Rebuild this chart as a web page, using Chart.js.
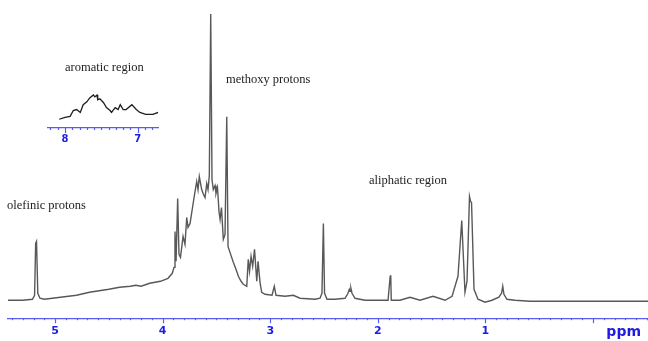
<!DOCTYPE html>
<html>
<head>
<meta charset="utf-8">
<title>1H NMR spectrum</title>
<script src="https://cdn.jsdelivr.net/npm/chart.js@4.4.0/dist/chart.umd.min.js"></script>
<style>
  html, body { margin: 0; padding: 0; background: #fff; }
  #wrap { position: relative; width: 648px; height: 341px; overflow: hidden; }
  #spectrum { position: absolute; left: 0; top: 0; }
  #inset { position: absolute; left: 40px; top: 80px; }
  .note {
    position: absolute;
    font-family: "Liberation Serif", "Times New Roman", serif;
    font-size: 12.5px;
    line-height: 14px;
    color: #222;
    white-space: nowrap;
  }
</style>
</head>
<body>
<div id="wrap">
  <canvas id="spectrum" width="648" height="345"></canvas>
  <canvas id="inset" width="130" height="70"></canvas>
  <div class="note" style="left:65px; top:60px">aromatic region</div>
  <div class="note" style="left:226px; top:72px">methoxy protons</div>
  <div class="note" style="left:7px; top:198px">olefinic protons</div>
  <div class="note" style="left:369px; top:173px">aliphatic region</div>
</div>
<script>
// main spectrum, chemical shift (ppm) and intensity
const PPM = [
  5.44, 5.30, 5.21, 5.19, 5.180, 5.172, 5.160, 5.14, 5.10, 4.95,
  4.80, 4.68, 4.50, 4.40, 4.30, 4.25, 4.20, 4.12, 4.02, 3.95,
  3.91, 3.894, 3.885, 3.875, 3.860, 3.848, 3.834, 3.810, 3.792, 3.776,
  3.764, 3.745, 3.715, 3.699, 3.683, 3.671, 3.659, 3.637, 3.620, 3.606,
  3.590, 3.578, 3.566, 3.553, 3.541, 3.529, 3.513, 3.504, 3.490, 3.476,
  3.466, 3.453, 3.436, 3.420, 3.404, 3.392, 3.374, 3.343, 3.318, 3.296,
  3.271, 3.250, 3.218, 3.204, 3.192, 3.178, 3.163, 3.146, 3.125, 3.113,
  3.095, 3.079, 3.048, 2.983, 2.962, 2.946, 2.862, 2.785, 2.723, 2.584,
  2.537, 2.519, 2.506, 2.495, 2.472, 2.398, 2.305, 2.277, 2.265, 2.258,
  2.250, 2.240, 2.212, 2.119, 1.905, 1.885, 1.880, 1.875, 1.794, 1.701,
  1.608, 1.487, 1.375, 1.310, 1.255, 1.220, 1.190, 1.171, 1.148, 1.138,
  1.129, 1.106, 1.069, 1.004, 0.939, 0.875, 0.850, 0.839, 0.828, 0.800,
  0.725, 0.585, -0.511
];
const INTENSITY = [
  1, 1, 2, 6, 58, 60, 8, 3, 2, 4,
  6, 9, 12, 14, 15, 16, 15, 18, 20, 23,
  28, 34, 70, 40, 103, 47, 44, 65, 57, 84,
  74, 78, 99, 110, 120, 112, 125, 112, 107, 104,
  118, 112, 126, 288, 122, 112, 116, 108, 114, 90,
  82, 94, 62, 67, 185, 55, 49, 39, 32, 25,
  20, 17, 15, 42, 30, 45, 35, 52, 20, 40,
  19, 9, 7, 6, 15, 6, 5, 6, 3, 2,
  3, 8, 78, 8, 2, 2, 3, 8, 12, 10,
  13, 8, 3, 1, 1, 25, 26, 1, 1, 4,
  1, 5, 1, 5, 25, 81, 9, 20, 105, 100,
  99, 12, 2, -1, 1, 4, 8, 15, 7, 2,
  1, 0, 0
];

// inset: aromatic region
const AROM_PPM = [
  8.08, 8.00, 7.93, 7.886, 7.84, 7.79, 7.75, 7.70, 7.66, 7.61,
  7.59, 7.56, 7.55, 7.52, 7.47, 7.43, 7.38, 7.36, 7.31, 7.27,
  7.24, 7.20, 7.16, 7.08, 7.02, 6.97, 6.89, 6.79, 6.72
];
const AROM_INTENSITY = [
  9, 11, 12, 18, 19, 16, 24, 27, 31, 34,
  32, 34, 29, 30, 26, 21, 18, 16, 21, 19,
  24, 19, 19, 24, 19, 16, 14, 14, 16
];

// axis ticks
const MAIN_TICKS = [5, 4, 3, 2, 1, -0.285];
const MAIN_TICK_LABELS = ['5', '4', '3', '2', '1', 'ppm'];
const INSET_TICKS = [8, 7];
const INSET_TICK_LABELS = ['8', '7'];

const AXIS_BLUE = '#5a5af4';
const LABEL_BLUE = '#1c1ce4';

// small tick marks every 0.1 ppm, longer ones on whole ppm
const tickMarks = {
  id: 'tickMarks',
  afterDraw(chart) {
    const s = chart.scales.x;
    const ctx = chart.ctx;
    const y0 = chart.chartArea.bottom;
    ctx.save();
    ctx.strokeStyle = AXIS_BLUE;
    ctx.lineWidth = 1.2;
    for (let i = Math.ceil(s.min * 10); i <= Math.floor(s.max * 10); i++) {
      const x = Math.round(s.getPixelForValue(i / 10)) + 0.5;
      const len = i % 10 === 0 ? 5 : 2;
      ctx.beginPath();
      ctx.moveTo(x, y0);
      ctx.lineTo(x, y0 + len);
      ctx.stroke();
    }
    ctx.restore();
  }
};

function spectrumChart(el, ppm, inten, opts) {
  return new Chart(el, {
    type: 'line',
    data: {
      datasets: [{
        data: ppm.map((p, i) => ({ x: p, y: inten[i] })),
        borderColor: opts.color,
        borderWidth: opts.width,
        pointRadius: 0,
        tension: 0,
        fill: false
      }]
    },
    options: {
      responsive: false,
      animation: false,
      events: [],
      layout: { padding: opts.padding },
      plugins: { legend: { display: false }, tooltip: { enabled: false } },
      scales: {
        x: {
          type: 'linear',
          reverse: true,
          min: opts.xmin,
          max: opts.xmax,
          grid: { display: false, drawTicks: true, tickLength: 2 },
          border: { display: true, color: AXIS_BLUE, width: 1.3 },
          afterBuildTicks: s => { s.ticks = opts.ticks.map(v => ({ value: v })); },
          ticks: {
            autoSkip: false,
            maxRotation: 0,
            padding: opts.labelGap,
            color: LABEL_BLUE,
            font: ctx => ({
              family: 'DejaVu Sans',
              weight: 'bold',
              size: opts.labels[ctx.index] === 'ppm' ? 14 : opts.fontSize
            }),
            callback: (v, i) => opts.labels[i]
          }
        },
        y: { display: false, min: opts.ymin, max: opts.ymax }
      }
    },
    plugins: [tickMarks]
  });
}

spectrumChart(document.getElementById('spectrum'), PPM, INTENSITY, {
  color: '#585858', width: 1.4,
  padding: { left: 8, right: 0, top: 4, bottom: 0 },
  xmin: -0.511, xmax: 5.437, ymin: -17, ymax: 298,
  ticks: MAIN_TICKS, labels: MAIN_TICK_LABELS, fontSize: 11, labelGap: 4
});

spectrumChart(document.getElementById('inset'), AROM_PPM, AROM_INTENSITY, {
  color: '#1e1e1e', width: 1.3,
  padding: { left: 8, right: 12, top: 4, bottom: 2 },
  xmin: 6.721, xmax: 8.234, ymin: 0, ymax: 45.3,
  ticks: INSET_TICKS, labels: INSET_TICK_LABELS, fontSize: 10, labelGap: 3
});
</script>
</body>
</html>
